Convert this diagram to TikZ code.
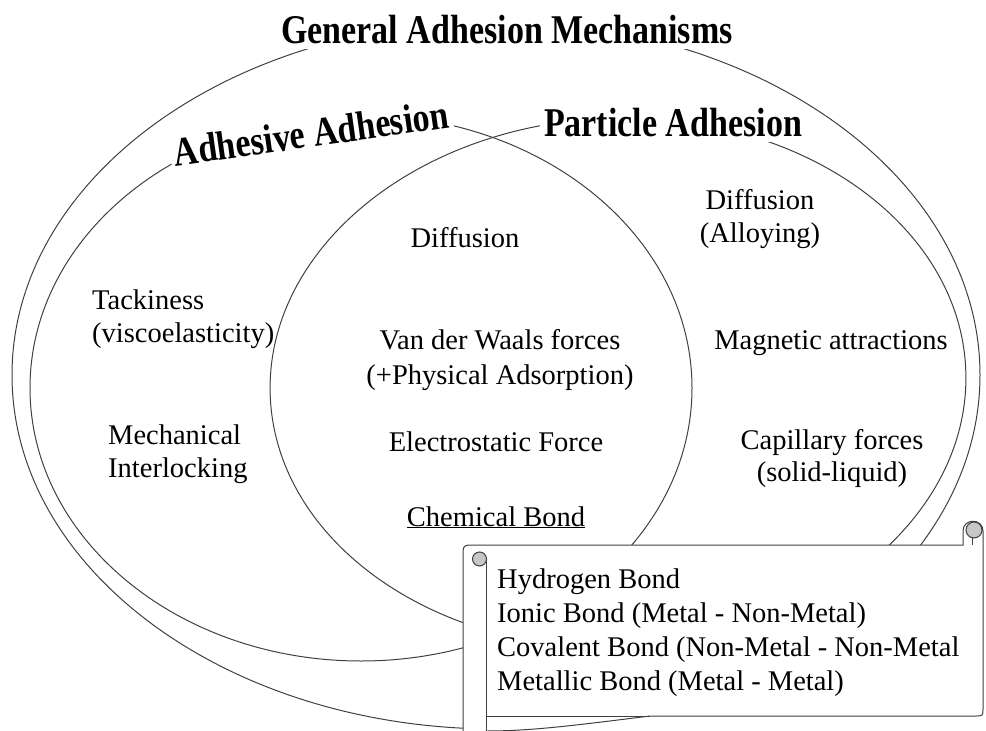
\documentclass[tikz,border=0pt]{standalone}
\usepackage{fontspec}
\usepackage{graphicx}
\setmainfont{Liberation Serif}
\newcommand{\tallbf}[1]{\scalebox{1}[1.2]{#1}}
\begin{document}
\begin{tikzpicture}[x=1pt,y=-1pt,
  line/.style={draw=black!75, line width=1pt},
  txt/.style={font=\fontsize{28.5}{33.5}\selectfont, inner sep=0pt},
  lbl/.style={font=\fontsize{34}{40}\selectfont\bfseries, fill=white, inner xsep=4pt, inner ysep=5pt}]
\useasboundingbox (0,0) rectangle (986,731);
% ellipses
\draw[line] (496,375) ellipse [x radius=484pt, y radius=354pt];
\draw[line] (361,388) ellipse [x radius=331pt, y radius=273pt];
\draw[line, rotate around={2:(618,383)}] (618,383) ellipse [x radius=348pt, y radius=265pt];
% headings
\node[lbl] (title) at (507,30) {\tallbf{General Adhesion Mechanisms}};
\node[lbl, rotate=8] (adh) at (311,133) {\tallbf{Adhesive Adhesion}};
\node[lbl] (part) at (673,123) {\tallbf{Particle Adhesion}};
% texts
\node[txt, anchor=base] (dif1) at (465,247) {Diffusion};
\node[txt, anchor=base] (dif2) at (760,209) {Diffusion};
\node[txt, anchor=base] (dif2b) at (760,242) {(Alloying)};
\node[txt, anchor=base west] (tack) at (92,309) {Tackiness};
\node[txt, anchor=base west] (tackb) at (92,342) {(viscoelasticity)};
\node[txt, anchor=base] (vdw) at (500,349) {Van der Waals forces};
\node[txt, anchor=base] (vdwb) at (500,384) {(+Physical Adsorption)};
\node[txt, anchor=base] (mag) at (831,349) {Magnetic attractions};
\node[txt, anchor=base west] (mech) at (108,444) {Mechanical};
\node[txt, anchor=base west] (mechb) at (108,477) {Interlocking};
\node[txt, anchor=base] (elec) at (496,451) {Electrostatic Force};
\node[txt, anchor=base] (cap) at (832,449) {Capillary forces};
\node[txt, anchor=base] (capb) at (832,481) {(solid-liquid)};
\node[txt, anchor=base] (chem) at (496,526) {\underline{Chemical Bond}};
% scroll
\draw[line, fill=white] (463,740) -- (463,557) .. controls (463,545) .. (475,545)
  -- (963,545) -- (963,531) .. controls (963,518) and (983,518) .. (983,531)
  -- (983,708) .. controls (983,716) .. (975,716) -- (650,716)
  .. controls (570,726) and (530,731) .. (486,731) -- (486,740) -- cycle;
\draw[line] (486,716) -- (650,716);
\draw[line] (486.5,559) -- (486.5,740);
\draw[line, fill=black!22] (479.5,559) circle [radius=7];
\draw[line, fill=black!22] (974,530) circle [radius=8];
\draw[line] (972,537) -- (972,545);
\node[txt, anchor=base west] (s1) at (497,588) {Hydrogen Bond};
\node[txt, anchor=base west] (s2) at (497,622) {Ionic Bond (Metal - Non-Metal)};
\node[txt, anchor=base west] (s3) at (497,656) {Covalent Bond (Non-Metal - Non-Metal};
\node[txt, anchor=base west] (s4) at (497,690) {Metallic Bond (Metal - Metal)};
\end{tikzpicture}
\end{document}
